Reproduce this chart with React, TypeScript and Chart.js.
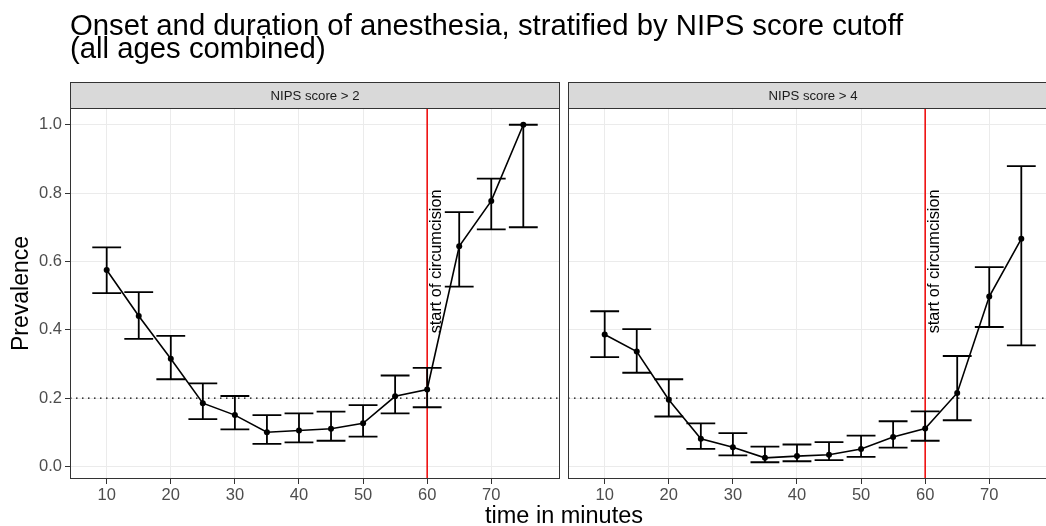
import React, { useEffect, useRef } from "react";
import { Chart, registerables } from "chart.js";

Chart.register(...registerables);

// ---------- data ----------
const minutes = [10, 15, 20, 25, 30, 35, 40, 45, 50, 55, 60, 65, 70, 75];

const prevalenceCut2 = [0.575, 0.44, 0.315, 0.185, 0.15, 0.1, 0.105, 0.11, 0.126, 0.205, 0.225, 0.644, 0.777, 1.0];
const lowerCut2 = [0.507, 0.373, 0.255, 0.138, 0.108, 0.066, 0.07, 0.075, 0.087, 0.155, 0.173, 0.526, 0.694, 0.7];
const upperCut2 = [0.641, 0.51, 0.382, 0.243, 0.206, 0.15, 0.155, 0.16, 0.179, 0.266, 0.288, 0.744, 0.842, 1.0];

const prevalenceCut4 = [0.386, 0.336, 0.195, 0.081, 0.056, 0.025, 0.03, 0.034, 0.051, 0.086, 0.111, 0.215, 0.497, 0.666];
const lowerCut4 = [0.32, 0.274, 0.146, 0.051, 0.032, 0.012, 0.015, 0.018, 0.028, 0.055, 0.075, 0.135, 0.408, 0.354];
const upperCut4 = [0.454, 0.402, 0.255, 0.126, 0.097, 0.058, 0.064, 0.071, 0.09, 0.132, 0.161, 0.323, 0.583, 0.879];

const xTicks = [10, 20, 30, 40, 50, 60, 70];
const yTicks = [0, 0.2, 0.4, 0.6, 0.8, 1.0];

const stripLabels = ["NIPS score > 2", "NIPS score > 4"];
const titleLines = ["Onset and duration of anesthesia, stratified by NIPS score cutoff", "(all ages combined)"];
const xTitle = "time in minutes";
const yTitle = "Prevalence";
const annotationText = "start of circumcision";
const refMinute = 60;
const refPrevalence = 0.2;
const annotationX = 61.4;
const annotationY = 0.6;
const capHalfWidth = 2.25;

// ---------- styling ----------
const FONT = '"Liberation Sans", Arial, Helvetica, sans-serif';
const X_MIN = 4.275;
const X_MAX = 80.725;
const Y_MIN = -0.037;
const Y_MAX = 1.049;

function makePlugin(idx: number, lower: number[], upper: number[], withTitle: boolean) {
  return {
    id: "panelDecor" + idx,
    beforeDatasetsDraw(chart: any) {
      const { ctx, chartArea: a, scales } = chart;
      const x = scales.x;
      const y = scales.y;
      ctx.save();
      ctx.beginPath();
      ctx.rect(a.left, a.top, a.right - a.left, a.bottom - a.top);
      ctx.clip();
      // dotted reference line
      const yy = y.getPixelForValue(refPrevalence);
      ctx.strokeStyle = "#000";
      ctx.lineWidth = 1.2;
      ctx.setLineDash([1.5, 4.5]);
      ctx.beginPath();
      ctx.moveTo(a.left, yy);
      ctx.lineTo(a.right, yy);
      ctx.stroke();
      ctx.setLineDash([]);
      // vertical red line
      const xx = x.getPixelForValue(refMinute);
      ctx.strokeStyle = "#ee0000";
      ctx.lineWidth = 1.5;
      ctx.beginPath();
      ctx.moveTo(xx, a.top);
      ctx.lineTo(xx, a.bottom);
      ctx.stroke();
      // error bars
      ctx.strokeStyle = "#000";
      ctx.lineWidth = 1.8;
      minutes.forEach((m, i) => {
        const px = x.getPixelForValue(m);
        const l = x.getPixelForValue(m - capHalfWidth);
        const r = x.getPixelForValue(m + capHalfWidth);
        const yl = y.getPixelForValue(lower[i]);
        const yu = y.getPixelForValue(upper[i]);
        ctx.beginPath();
        ctx.moveTo(px, yl);
        ctx.lineTo(px, yu);
        ctx.moveTo(l, yl);
        ctx.lineTo(r, yl);
        ctx.moveTo(l, yu);
        ctx.lineTo(r, yu);
        ctx.stroke();
      });
      ctx.restore();
    },
    afterDatasetsDraw(chart: any) {
      const { ctx, scales } = chart;
      ctx.save();
      ctx.translate(scales.x.getPixelForValue(annotationX), scales.y.getPixelForValue(annotationY));
      ctx.rotate(-Math.PI / 2);
      ctx.font = `16.3px ${FONT}`;
      ctx.fillStyle = "#000";
      ctx.textAlign = "center";
      ctx.textBaseline = "middle";
      ctx.fillText(annotationText, 0, 0);
      ctx.restore();
    },
    afterDraw(chart: any) {
      const { ctx, chartArea: a } = chart;
      ctx.save();
      // panel border
      ctx.strokeStyle = "#333333";
      ctx.lineWidth = 1;
      ctx.strokeRect(a.left + 0.5, a.top + 0.5, a.right - a.left - 1, a.bottom - a.top - 1);
      // strip
      const sTop = 82;
      ctx.fillStyle = "#d9d9d9";
      ctx.fillRect(a.left, sTop, a.right - a.left, a.top - sTop);
      ctx.strokeRect(a.left + 0.5, sTop + 0.5, a.right - a.left - 1, a.top - sTop);
      ctx.fillStyle = "#1a1a1a";
      ctx.font = `13.2px ${FONT}`;
      ctx.textAlign = "center";
      ctx.textBaseline = "middle";
      ctx.fillText(stripLabels[idx], (a.left + a.right) / 2, (sTop + a.top) / 2 + 1);
      if (withTitle) {
        ctx.fillStyle = "#000";
        ctx.font = `29.3px ${FONT}`;
        ctx.textAlign = "left";
        ctx.textBaseline = "alphabetic";
        ctx.fillText(titleLines[0], a.left, 35);
        ctx.fillText(titleLines[1], a.left, 58);
        ctx.font = `23.5px ${FONT}`;
        ctx.textAlign = "center";
        ctx.fillText(xTitle, 564, 523);
      }
      ctx.restore();
    },
  };
}

function makeConfig(idx: number, values: number[], lower: number[], upper: number[]) {
  const first = idx === 0;
  return {
    type: "scatter" as const,
    data: {
      datasets: [
        {
          data: minutes.map((m, i) => ({ x: m, y: values[i] })),
          showLine: true,
          borderColor: "#000",
          borderWidth: 1.6,
          backgroundColor: "#000",
          pointRadius: 3,
          pointBorderWidth: 0,
          pointHoverRadius: 3,
        },
      ],
    },
    options: {
      responsive: false,
      animation: false as const,
      events: [],
      layout: {
        padding: first
          ? { left: 0, right: 486, top: 108, bottom: 0 }
          : { left: 4, right: 6, top: 108, bottom: 0 },
      },
      plugins: {
        legend: { display: false },
        tooltip: { enabled: false },
        title: { display: false },
      },
      scales: {
        x: {
          type: "linear" as const,
          min: X_MIN,
          max: X_MAX,
          afterBuildTicks: (s: any) => {
            s.ticks = xTicks.map((v) => ({ value: v }));
          },
          afterFit: (s: any) => {
            s.height = 47;
          },
          grid: { color: "#ebebeb", lineWidth: 1, tickColor: "#333333", tickLength: 5 },
          border: { display: false },
          ticks: {
            color: "#4d4d4d",
            font: { family: FONT, size: 16.5 },
            padding: 2,
            maxRotation: 0,
            autoSkip: false,
            callback: (v: any) => String(v),
          },
        },
        y: {
          type: "linear" as const,
          min: Y_MIN,
          max: Y_MAX,
          afterBuildTicks: (s: any) => {
            s.ticks = yTicks.map((v) => ({ value: v }));
          },
          afterFit: (s: any) => {
            s.width = first ? 70 : 0;
          },
          grid: {
            color: "#ebebeb",
            lineWidth: 1,
            tickColor: "#333333",
            tickLength: 5,
            drawTicks: first,
          },
          border: { display: false },
          ticks: {
            display: first,
            color: "#4d4d4d",
            font: { family: FONT, size: 16.5 },
            padding: 3,
            autoSkip: false,
            callback: (v: any) => Number(v).toFixed(1),
          },
          title: {
            display: first,
            text: yTitle,
            color: "#000",
            font: { family: FONT, size: 23 },
            padding: { top: 8, bottom: 0 },
          },
        },
      },
    },
    plugins: [makePlugin(idx, lower, upper, first)],
  };
}

export default function App() {
  const leftRef = useRef<HTMLCanvasElement>(null);
  const rightRef = useRef<HTMLCanvasElement>(null);

  useEffect(() => {
    const c1 = new Chart(leftRef.current as HTMLCanvasElement, makeConfig(0, prevalenceCut2, lowerCut2, upperCut2) as any);
    const c2 = new Chart(rightRef.current as HTMLCanvasElement, makeConfig(1, prevalenceCut4, lowerCut4, upperCut4) as any);
    return () => {
      c1.destroy();
      c2.destroy();
    };
  }, []);

  return (
    <div
      style={{
        position: "fixed",
        left: 0,
        top: 0,
        width: 1046,
        height: 526,
        overflow: "hidden",
        background: "#fff",
      }}
    >
      <canvas
        ref={leftRef}
        width={1046}
        height={526}
        style={{ position: "absolute", left: 0, top: 0, width: 1046, height: 526 }}
      />
      <canvas
        ref={rightRef}
        width={500}
        height={526}
        style={{ position: "absolute", left: 564, top: 0, width: 500, height: 526 }}
      />
    </div>
  );
}
